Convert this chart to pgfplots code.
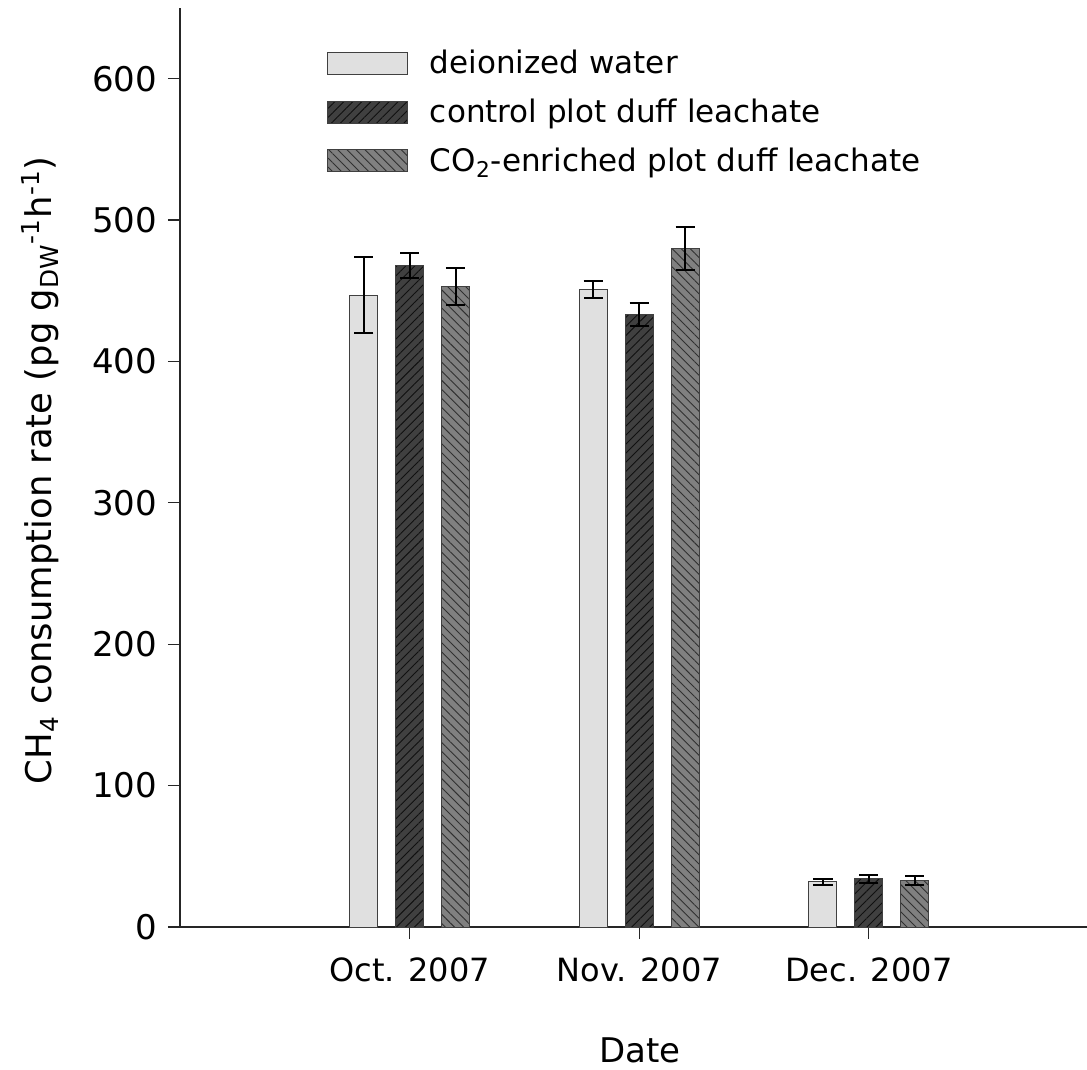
\documentclass[border=0pt]{standalone}
\usepackage{fontspec}
\setmainfont{DejaVu Sans}
\usepackage{pgfplots}
\usepackage{pgfplotstable}
\pgfplotsset{compat=1.18}
\usetikzlibrary{patterns.meta,calc}

\definecolor{dwfill}{HTML}{E0E0E0}
\definecolor{ctfill}{HTML}{404040}
\definecolor{ctline}{HTML}{101010}
\definecolor{cofill}{HTML}{808080}
\definecolor{coline}{HTML}{303030}
\definecolor{edge}{HTML}{404040}

% x: 0 = Oct. 2007, 1 = Nov. 2007, 2 = Dec. 2007
\pgfplotstableread{
x y err
0 447 27
1 451 6
2 32 2
}\dwdata
\pgfplotstableread{
x y err
0 468 9
1 433 8
2 34 3
}\ctdata
\pgfplotstableread{
x y err
0 453 13
1 480 15
2 33 3
}\codata

\begin{document}
\begin{tikzpicture}
\begin{axis}[
  name=main,
  scale only axis, width=453.5pt, height=459.5pt,
  xmin=-1, xmax=2.95, ymin=0, ymax=650,
  axis lines=left,
  axis line style={-, line width=0.6pt, black!85},
  tick align=outside, major tick length=6pt,
  tick style={line width=0.6pt, black!85},
  xtick={0,1,2}, xticklabels={Oct. 2007, Nov. 2007, Dec. 2007},
  ytick={0,100,...,600},
  /pgf/number format/assume math mode=true,
  xticklabel style={font=\fontsize{16}{19}\selectfont, yshift=-6pt},
  yticklabel style={font=\fontsize{17}{20}\selectfont, xshift=-2pt},
  xlabel={Date},
  ylabel={CH\textsubscript{4} consumption rate (pg g\textsubscript{DW}\textsuperscript{-1}h\textsuperscript{-1})},
  xlabel style={font=\fontsize{17}{20}\selectfont, at={(axis description cs:0.507,-0.134)}, anchor=center},
  ylabel style={font=\fontsize{17.7}{21}\selectfont, at={(axis description cs:-0.154,0.497)}, anchor=center},
  ybar, bar width=0.122,
  legend image code/.code={
    \draw[#1] (0pt,-5.5pt) rectangle (40pt,5.5pt);
    \path (49pt,0pt);
  },
  legend cell align=left,
  legend style={at={(axis description cs:0.155,0.963)}, anchor=north west,
    draw=none, fill=none, row sep=7pt,
    font=\fontsize{15.5}{18}\selectfont},
  error bars/y dir=both, error bars/y explicit,
  error bars/error bar style={line width=1pt, black},
  error bars/error mark options={line width=1pt, black, mark size=4.8pt, rotate=90},
]
\addplot[bar shift=-0.2, fill=dwfill, draw=edge, line width=0.5pt]
  table[x=x, y=y, y error=err]{\dwdata};
\addlegendentry{deionized water}
\addplot[bar shift=0, fill=ctfill, draw=edge, line width=0.5pt,
  postaction={pattern={Lines[angle=45,distance=3.2pt,line width=0.45pt]}, pattern color=ctline}]
  table[x=x, y=y, y error=err]{\ctdata};
\addlegendentry{control plot duff leachate}
\addplot[bar shift=0.2, fill=cofill, draw=edge, line width=0.5pt,
  postaction={pattern={Lines[angle=-45,distance=3.2pt,line width=0.45pt]}, pattern color=coline}]
  table[x=x, y=y, y error=err]{\codata};
\addlegendentry{CO\textsubscript{2}-enriched plot duff leachate}
\end{axis}
\draw[line width=0.6pt, black!85] (main.south west) -- ++(-5pt,0pt);
\pgfresetboundingbox
\path ($(main.south west)+(-90pt,-71.5pt)$) rectangle ($(main.south west)+(453.5pt,463.5pt)$);
\end{tikzpicture}
\end{document}
